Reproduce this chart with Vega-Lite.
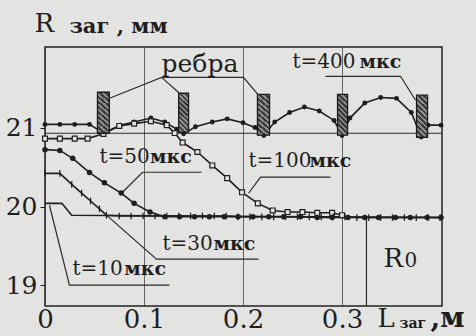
{
"$schema": "https://vega.github.io/schema/vega-lite/v6.json",
"width": 397, "height": 259,
"autosize": {"type": "none"},
"padding": {"left": 45, "top": 47, "right": 34, "bottom": 30},
"background": "#e3e3e1",
"config": {"view": {"stroke": "#222222", "strokeWidth": 1.5}, "font": "DejaVu Serif"},
"encoding": {
  "x": {"field": "L", "type": "quantitative",
        "scale": {"domain": [0, 0.401], "nice": false, "zero": false},
        "axis": {"values": [0, 0.1, 0.2, 0.3], "title": null, "domain": false, "ticks": false,
                 "labelPadding": 0, "labelFont": "DejaVu Serif", "labelFontSize": 26, "labelColor": "#1e1e1e",
                 "labelFlush": false, "labelOverlap": false,
                 "labelExpr": "datum.value == 0 ? '0' : format(datum.value, '.1f')",
                 "grid": true, "gridColor": "#3a3a3a", "gridWidth": 1, "gridOpacity": 0.75}},
  "y": {"field": "R", "type": "quantitative",
        "scale": {"domain": [18.74, 22.02], "nice": false, "zero": false},
        "axis": {"values": [19, 20, 21], "title": null, "domain": false, "ticks": true, "tickSize": 5,
                 "tickColor": "#1e1e1e", "labelPadding": 3, "labelFont": "DejaVu Serif", "labelFontSize": 25,
                 "labelColor": "#1e1e1e", "labelFlush": false, "labelOverlap": false, "grid": false}}
},
"datasets": {
  "curves": [
    {"s": "t400", "L": 0, "R": 21.04}, {"s": "t400", "L": 0.015, "R": 21.04}, {"s": "t400", "L": 0.030, "R": 21.04}, {"s": "t400", "L": 0.045, "R": 21.04},
    {"s": "t400", "L": 0.059, "R": 20.93}, {"s": "t400", "L": 0.076, "R": 21.03}, {"s": "t400", "L": 0.090, "R": 21.07}, {"s": "t400", "L": 0.107, "R": 21.12},
    {"s": "t400", "L": 0.121, "R": 21.07}, {"s": "t400", "L": 0.133, "R": 20.98}, {"s": "t400", "L": 0.140, "R": 20.92}, {"s": "t400", "L": 0.152, "R": 21.01},
    {"s": "t400", "L": 0.169, "R": 21.07}, {"s": "t400", "L": 0.184, "R": 21.11}, {"s": "t400", "L": 0.200, "R": 21.06}, {"s": "t400", "L": 0.212, "R": 21.00},
    {"s": "t400", "L": 0.221, "R": 20.90}, {"s": "t400", "L": 0.232, "R": 21.07}, {"s": "t400", "L": 0.247, "R": 21.19}, {"s": "t400", "L": 0.262, "R": 21.26},
    {"s": "t400", "L": 0.277, "R": 21.21}, {"s": "t400", "L": 0.292, "R": 21.09}, {"s": "t400", "L": 0.300, "R": 20.90}, {"s": "t400", "L": 0.308, "R": 21.12},
    {"s": "t400", "L": 0.323, "R": 21.31}, {"s": "t400", "L": 0.339, "R": 21.38}, {"s": "t400", "L": 0.355, "R": 21.37}, {"s": "t400", "L": 0.370, "R": 21.19},
    {"s": "t400", "L": 0.380, "R": 20.88}, {"s": "t400", "L": 0.387, "R": 21.03}, {"s": "t400", "L": 0.400, "R": 21.03},

    {"s": "t100", "L": 0, "R": 20.86}, {"s": "t100", "L": 0.015, "R": 20.86}, {"s": "t100", "L": 0.030, "R": 20.86}, {"s": "t100", "L": 0.043, "R": 20.86},
    {"s": "t100", "L": 0.059, "R": 20.92}, {"s": "t100", "L": 0.075, "R": 21.02}, {"s": "t100", "L": 0.090, "R": 21.05}, {"s": "t100", "L": 0.107, "R": 21.08},
    {"s": "t100", "L": 0.123, "R": 21.03}, {"s": "t100", "L": 0.131, "R": 20.93}, {"s": "t100", "L": 0.139, "R": 20.81}, {"s": "t100", "L": 0.154, "R": 20.69},
    {"s": "t100", "L": 0.169, "R": 20.52}, {"s": "t100", "L": 0.184, "R": 20.36}, {"s": "t100", "L": 0.199, "R": 20.18}, {"s": "t100", "L": 0.215, "R": 20.04},
    {"s": "t100", "L": 0.230, "R": 19.95}, {"s": "t100", "L": 0.245, "R": 19.93}, {"s": "t100", "L": 0.260, "R": 19.93}, {"s": "t100", "L": 0.275, "R": 19.92},
    {"s": "t100", "L": 0.290, "R": 19.92}, {"s": "t100", "L": 0.300, "R": 19.89},

    {"s": "t50", "L": 0, "R": 20.72}, {"s": "t50", "L": 0.015, "R": 20.71}, {"s": "t50", "L": 0.028, "R": 20.61}, {"s": "t50", "L": 0.045, "R": 20.43},
    {"s": "t50", "L": 0.060, "R": 20.30}, {"s": "t50", "L": 0.077, "R": 20.17}, {"s": "t50", "L": 0.090, "R": 20.04}, {"s": "t50", "L": 0.106, "R": 19.93},
    {"s": "t50", "L": 0.121, "R": 19.87}, {"s": "t50", "L": 0.136, "R": 19.87}, {"s": "t50", "L": 0.151, "R": 19.87}, {"s": "t50", "L": 0.166, "R": 19.87},
    {"s": "t50", "L": 0.181, "R": 19.87}, {"s": "t50", "L": 0.195, "R": 19.87}, {"s": "t50", "L": 0.210, "R": 19.87}, {"s": "t50", "L": 0.226, "R": 19.87},
    {"s": "t50", "L": 0.241, "R": 19.87}, {"s": "t50", "L": 0.258, "R": 19.87}, {"s": "t50", "L": 0.275, "R": 19.86}, {"s": "t50", "L": 0.290, "R": 19.86},
    {"s": "t50", "L": 0.306, "R": 19.86}, {"s": "t50", "L": 0.323, "R": 19.86}, {"s": "t50", "L": 0.337, "R": 19.86}, {"s": "t50", "L": 0.354, "R": 19.86},
    {"s": "t50", "L": 0.369, "R": 19.86}, {"s": "t50", "L": 0.386, "R": 19.86}, {"s": "t50", "L": 0.400, "R": 19.86},

    {"s": "t30", "L": 0, "R": 20.42}, {"s": "t30", "L": 0.015, "R": 20.42}, {"s": "t30", "L": 0.027, "R": 20.28}, {"s": "t30", "L": 0.037, "R": 20.17},
    {"s": "t30", "L": 0.046, "R": 20.07}, {"s": "t30", "L": 0.055, "R": 19.97}, {"s": "t30", "L": 0.062, "R": 19.89}, {"s": "t30", "L": 0.075, "R": 19.88},
    {"s": "t30", "L": 0.087, "R": 19.88}, {"s": "t30", "L": 0.099, "R": 19.88}, {"s": "t30", "L": 0.111, "R": 19.88}, {"s": "t30", "L": 0.123, "R": 19.88},
    {"s": "t30", "L": 0.135, "R": 19.88}, {"s": "t30", "L": 0.147, "R": 19.88}, {"s": "t30", "L": 0.159, "R": 19.88}, {"s": "t30", "L": 0.171, "R": 19.88},
    {"s": "t30", "L": 0.183, "R": 19.88}, {"s": "t30", "L": 0.195, "R": 19.87}, {"s": "t30", "L": 0.207, "R": 19.87}, {"s": "t30", "L": 0.219, "R": 19.87},
    {"s": "t30", "L": 0.231, "R": 19.87}, {"s": "t30", "L": 0.243, "R": 19.87}, {"s": "t30", "L": 0.255, "R": 19.87}, {"s": "t30", "L": 0.267, "R": 19.87},
    {"s": "t30", "L": 0.279, "R": 19.87}, {"s": "t30", "L": 0.291, "R": 19.87}, {"s": "t30", "L": 0.303, "R": 19.87}, {"s": "t30", "L": 0.315, "R": 19.86},
    {"s": "t30", "L": 0.327, "R": 19.86}, {"s": "t30", "L": 0.339, "R": 19.86}, {"s": "t30", "L": 0.351, "R": 19.86}, {"s": "t30", "L": 0.363, "R": 19.86},
    {"s": "t30", "L": 0.375, "R": 19.86}, {"s": "t30", "L": 0.387, "R": 19.86}, {"s": "t30", "L": 0.399, "R": 19.86},

    {"s": "t10", "L": 0, "R": 20.04}, {"s": "t10", "L": 0.017, "R": 20.04}, {"s": "t10", "L": 0.027, "R": 19.89}, {"s": "t10", "L": 0.400, "R": 19.86}
  ],
  "leaders": [
    {"g": 1, "i": 1, "L": 0.0652, "R": 21.371}, {"g": 1, "i": 2, "L": 0.1177, "R": 21.636}, {"g": 1, "i": 3, "L": 0.1359, "R": 21.434},
    {"g": 2, "i": 1, "L": 0.1187, "R": 21.636}, {"g": 2, "i": 2, "L": 0.2005, "R": 21.636}, {"g": 2, "i": 3, "L": 0.2167, "R": 21.396},
    {"g": 3, "i": 1, "L": 0.2833, "R": 21.649}, {"g": 3, "i": 2, "L": 0.3591, "R": 21.649}, {"g": 3, "i": 3, "L": 0.3743, "R": 21.346},
    {"g": 4, "i": 1, "L": 0.0773, "R": 20.168}, {"g": 4, "i": 2, "L": 0.0985, "R": 20.434}, {"g": 4, "i": 3, "L": 0.1581, "R": 20.434},
    {"g": 5, "i": 1, "L": 0.2056, "R": 20.168}, {"g": 5, "i": 2, "L": 0.2177, "R": 20.371}, {"g": 5, "i": 3, "L": 0.2884, "R": 20.371},
    {"g": 6, "i": 1, "L": 0.0621, "R": 19.891}, {"g": 6, "i": 2, "L": 0.1126, "R": 19.333}, {"g": 6, "i": 3, "L": 0.2157, "R": 19.333},
    {"g": 7, "i": 1, "L": 0.0045, "R": 20.016}, {"g": 7, "i": 2, "L": 0.0247, "R": 19.004}, {"g": 7, "i": 3, "L": 0.1258, "R": 19.004},
    {"g": 8, "i": 1, "L": 0.3247, "R": 19.86}, {"g": 8, "i": 2, "L": 0.3247, "R": 18.74},
    {"g": 9, "i": 1, "L": 0, "R": 20.928}, {"g": 9, "i": 2, "L": 0.401, "R": 20.928}
  ]
},
"layer": [
  {"data": {"name": "leaders"}, "mark": {"type": "line", "color": "#2a2a2a", "strokeWidth": 1.2},
   "encoding": {"detail": {"field": "g"}, "order": {"field": "i"}}},
  {"data": {"name": "curves"}, "mark": {"type": "line", "color": "#1e1e1e", "strokeWidth": 1.6},
   "encoding": {"detail": {"field": "s"}}},
  {"data": {"name": "curves"}, "transform": [{"filter": "datum.s == 't400'"}],
   "mark": {"type": "point", "shape": "circle", "filled": true, "size": 24, "color": "#1e1e1e", "opacity": 1}},
  {"data": {"name": "curves"}, "transform": [{"filter": "datum.s == 't50'"}],
   "mark": {"type": "point", "shape": "circle", "filled": true, "size": 30, "color": "#1e1e1e", "opacity": 1}},
  {"data": {"name": "curves"}, "transform": [{"filter": "datum.s == 't100'"}],
   "mark": {"type": "point", "shape": "square", "filled": true, "size": 24, "fill": "#e3e3e1", "stroke": "#1e1e1e", "strokeWidth": 1.2, "opacity": 1}},
  {"data": {"name": "curves"}, "transform": [{"filter": "datum.s == 't30'"}],
   "mark": {"type": "point", "shape": "M0,-1L0,1", "filled": false, "size": 45, "stroke": "#1e1e1e", "strokeWidth": 1.3, "opacity": 1}},
  {"data": {"values": [
     {"L": 0.053, "L2": 0.065, "R": 20.928, "R2": 21.447},
     {"L": 0.135, "L2": 0.145, "R": 20.941, "R2": 21.434},
     {"L": 0.2146, "L2": 0.2268, "R": 20.903, "R2": 21.42},
     {"L": 0.2955, "L2": 0.3056, "R": 20.903, "R2": 21.42},
     {"L": 0.3753, "L2": 0.3864, "R": 20.877, "R2": 21.41}]},
   "mark": {"type": "rect", "stroke": "#1a1a1a", "strokeWidth": 1.3,
     "fill": {"gradient": "linear", "x1": 0, "y1": 1, "x2": 0.2865, "y2": -0.174, "stops": [
       {"offset": 0, "color": "#3a3a3a"}, {"offset": 0.05, "color": "#3a3a3a"}, {"offset": 0.05, "color": "#8c8c8c"}, {"offset": 0.1, "color": "#8c8c8c"},
       {"offset": 0.1, "color": "#3a3a3a"}, {"offset": 0.15, "color": "#3a3a3a"}, {"offset": 0.15, "color": "#8c8c8c"}, {"offset": 0.2, "color": "#8c8c8c"},
       {"offset": 0.2, "color": "#3a3a3a"}, {"offset": 0.25, "color": "#3a3a3a"}, {"offset": 0.25, "color": "#8c8c8c"}, {"offset": 0.3, "color": "#8c8c8c"},
       {"offset": 0.3, "color": "#3a3a3a"}, {"offset": 0.35, "color": "#3a3a3a"}, {"offset": 0.35, "color": "#8c8c8c"}, {"offset": 0.4, "color": "#8c8c8c"},
       {"offset": 0.4, "color": "#3a3a3a"}, {"offset": 0.45, "color": "#3a3a3a"}, {"offset": 0.45, "color": "#8c8c8c"}, {"offset": 0.5, "color": "#8c8c8c"},
       {"offset": 0.5, "color": "#3a3a3a"}, {"offset": 0.55, "color": "#3a3a3a"}, {"offset": 0.55, "color": "#8c8c8c"}, {"offset": 0.6, "color": "#8c8c8c"},
       {"offset": 0.6, "color": "#3a3a3a"}, {"offset": 0.65, "color": "#3a3a3a"}, {"offset": 0.65, "color": "#8c8c8c"}, {"offset": 0.7, "color": "#8c8c8c"},
       {"offset": 0.7, "color": "#3a3a3a"}, {"offset": 0.75, "color": "#3a3a3a"}, {"offset": 0.75, "color": "#8c8c8c"}, {"offset": 0.8, "color": "#8c8c8c"},
       {"offset": 0.8, "color": "#3a3a3a"}, {"offset": 0.85, "color": "#3a3a3a"}, {"offset": 0.85, "color": "#8c8c8c"}, {"offset": 0.9, "color": "#8c8c8c"},
       {"offset": 0.9, "color": "#3a3a3a"}, {"offset": 0.95, "color": "#3a3a3a"}, {"offset": 0.95, "color": "#8c8c8c"}, {"offset": 1, "color": "#8c8c8c"}]}},
   "encoding": {"x2": {"field": "L2"}, "y2": {"field": "R2"}}},
  {"data": {"values": [
     {"text": "R", "L": -0.0106, "R": 22.205},
     {"text": "L", "L": 0.3359, "R": 18.472},
     {"text": "R", "L": 0.3419, "R": 19.232}]},
   "mark": {"type": "text", "align": "left", "baseline": "alphabetic", "font": "DejaVu Serif", "fontSize": 26, "color": "#1e1e1e"},
   "encoding": {"text": {"field": "text"}}},
  {"data": {"values": [{"text": "заг , мм", "L": 0.0247, "R": 22.193}]},
   "mark": {"type": "text", "align": "left", "baseline": "alphabetic", "font": "DejaVu Serif", "fontSize": 21, "fontWeight": "bold", "color": "#1e1e1e"},
   "encoding": {"text": {"field": "text"}}},
  {"data": {"values": [{"text": "ребра", "L": 0.1177, "R": 21.70}]},
   "mark": {"type": "text", "align": "left", "baseline": "alphabetic", "font": "DejaVu Serif", "fontSize": 25, "color": "#1e1e1e"},
   "encoding": {"text": {"field": "text"}}},
  {"data": {"values": [
     {"text": "t=400", "L": 0.25, "R": 21.751},
     {"text": "t=50", "L": 0.0551, "R": 20.548},
     {"text": "t=100", "L": 0.2056, "R": 20.497},
     {"text": "t=30", "L": 0.1187, "R": 19.447},
     {"text": "t=10", "L": 0.0278, "R": 19.13},
     {"text": "0", "L": 0.3631, "R": 19.232}]},
   "mark": {"type": "text", "align": "left", "baseline": "alphabetic", "font": "DejaVu Serif", "fontSize": 20, "color": "#1e1e1e"},
   "encoding": {"text": {"field": "text"}}},
  {"data": {"values": [
     {"text": "мкс", "L": 0.3177, "R": 21.751},
     {"text": "мкс", "L": 0.106, "R": 20.548},
     {"text": "мкс", "L": 0.2672, "R": 20.497},
     {"text": "мкс", "L": 0.1702, "R": 19.447},
     {"text": "мкс", "L": 0.08, "R": 19.13}]},
   "mark": {"type": "text", "align": "left", "baseline": "alphabetic", "font": "DejaVu Serif", "fontSize": 19, "fontWeight": "bold", "color": "#1e1e1e"},
   "encoding": {"text": {"field": "text"}}},
  {"data": {"values": [{"text": "заг", "L": 0.3581, "R": 18.46}]},
   "mark": {"type": "text", "align": "left", "baseline": "alphabetic", "font": "DejaVu Serif", "fontSize": 14, "fontWeight": "bold", "color": "#1e1e1e"},
   "encoding": {"text": {"field": "text"}}},
  {"data": {"values": [{"text": ",м", "L": 0.3895, "R": 18.472}]},
   "mark": {"type": "text", "align": "left", "baseline": "alphabetic", "font": "DejaVu Serif", "fontSize": 28, "fontWeight": "bold", "color": "#1e1e1e"},
   "encoding": {"text": {"field": "text"}}}
]
}
